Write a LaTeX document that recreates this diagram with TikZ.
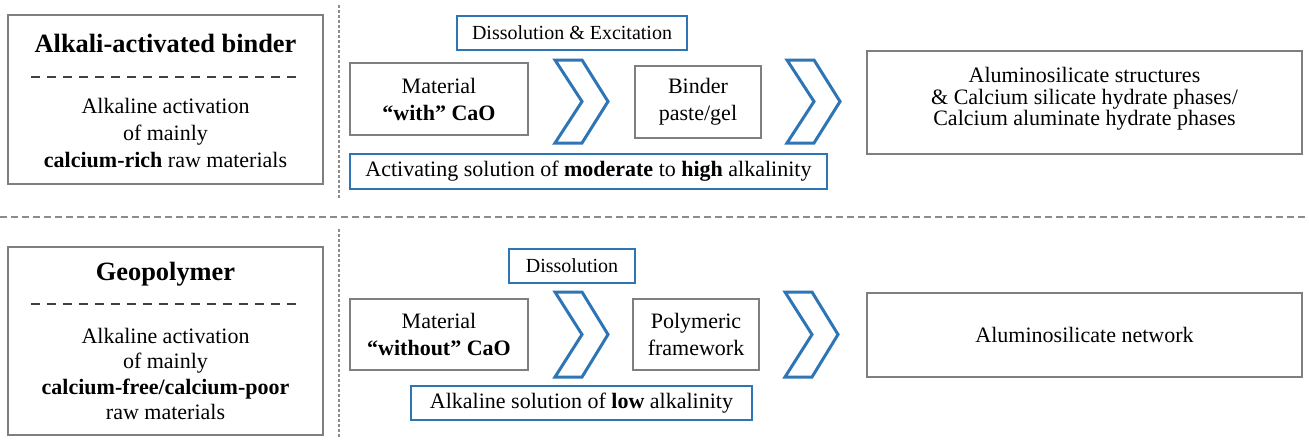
\documentclass[tikz,border=0pt]{standalone}
\usepackage{fontspec}
\setmainfont{Liberation Serif}
\usetikzlibrary{positioning}
\definecolor{boxgray}{RGB}{127,127,127}
\definecolor{flowblue}{RGB}{46,117,182}
\definecolor{sepgray}{RGB}{140,140,140}
\definecolor{dashdark}{RGB}{64,64,64}

\begin{document}
\begin{tikzpicture}[x=0.5pt, y=-0.5pt,
    graybox/.style={draw=boxgray, line width=0.75pt, align=center, inner sep=0pt, font=\fontsize{11}{13.5}\selectfont},
    bluebox/.style={draw=flowblue, line width=1pt, align=center, inner sep=0pt, font=\fontsize{11}{13.5}\selectfont},
    bodytext/.style={align=center, inner sep=0pt, font=\fontsize{11}{13.5}\selectfont},
    titletext/.style={inner sep=0pt, font=\fontsize{13.2}{16}\selectfont\bfseries},
    chev/.style={draw=flowblue, line width=1.5pt, line join=miter},
    innerdash/.style={dashdark, line width=0.75pt, dash pattern=on 4.5pt off 3.5pt},
    sepdash/.style={sepgray, line width=1pt, dash pattern=on 3.5pt off 2pt},
    sepdot/.style={sepgray, line width=0.6pt, dash pattern=on 1.5pt off 1pt}]
    \useasboundingbox (0,0) rectangle (1309,439);

    % separators
    \draw[sepdash] (0,216.5) -- (1309,216.5);
    \draw[sepdot] (339,5) -- (339,198);
    \draw[sepdot] (339,229) -- (339,439);

    % alkali-activated binder
    \node[graybox, minimum width=157.5pt, minimum height=84.5pt] (typeA) at (165.5,99.5) {};
    \node[titletext, anchor=base] (titleA) at (165.5,52) {Alkali-activated binder};
    \draw[innerdash] (31,77) -- (302,77);
    \node[bodytext] (descA) at (165.5,133) {Alkaline activation\\of mainly\\\textbf{calcium-rich} raw materials};

    \node[bluebox, minimum width=115pt, minimum height=17pt, font=\fontsize{10}{12}\selectfont] (stepA) at (572,33) {Dissolution \& Excitation};
    \node[graybox, minimum width=89pt, minimum height=36pt] (matA) at (439,99) {Material\\\textbf{“with” CaO}};
    \node[graybox, minimum width=63pt, minimum height=36pt] (gelA) at (698,102) {Binder\\paste/gel};
    \node[bluebox, minimum width=238.5pt, minimum height=17.5pt] (solA) at (588.5,171.5) {Activating solution of \textbf{moderate} to \textbf{high} alkalinity};
    \node[graybox, minimum width=217.5pt, minimum height=51.5pt] (resA) at (1084.5,102.5) {};
    \node[bodytext, font=\fontsize{11}{10.75}\selectfont] (resAtext) at ([yshift=1.75pt]resA.center) {Aluminosilicate structures\\\& Calcium silicate hydrate phases/\\Calcium aluminate hydrate phases};

    % geopolymer
    \node[graybox, minimum width=157.5pt, minimum height=94pt] (typeB) at (165.5,341) {};
    \node[titletext, anchor=base] (titleB) at (165.5,280) {Geopolymer};
    \draw[innerdash] (31,304) -- (302,304);
    \node[bodytext, font=\fontsize{11}{12.7}\selectfont] (descB) at (165.5,374) {Alkaline activation\\of mainly\\\textbf{calcium-free/calcium-poor}\\raw materials};

    \node[bluebox, minimum width=63pt, minimum height=17pt, font=\fontsize{10}{12}\selectfont] (stepB) at (572,266) {Dissolution};
    \node[graybox, minimum width=89pt, minimum height=35.5pt] (matB) at (439,334.5) {Material\\\textbf{“without” CaO}};
    \node[graybox, minimum width=63pt, minimum height=35.5pt] (polyB) at (696,334.5) {Polymeric\\framework};
    \node[bluebox, minimum width=170.5pt, minimum height=17pt] (solB) at (581.5,403) {Alkaline solution of \textbf{low} alkalinity};
    \node[graybox, minimum width=217.5pt, minimum height=42pt] (resB) at (1084.5,335) {Aluminosilicate network};

    % chevrons
    \foreach \cx/\ct/\cb in {555/60/143, 787/60/143, 555/292/377, 785/292/377}
      \draw[chev] (\cx,\ct) -- (\cx+27,\ct) -- (\cx+53,{(\ct+\cb)/2}) -- (\cx+27,\cb) -- (\cx,\cb) -- (\cx+27,{(\ct+\cb)/2}) -- cycle;
  \end{tikzpicture}
\end{document}
